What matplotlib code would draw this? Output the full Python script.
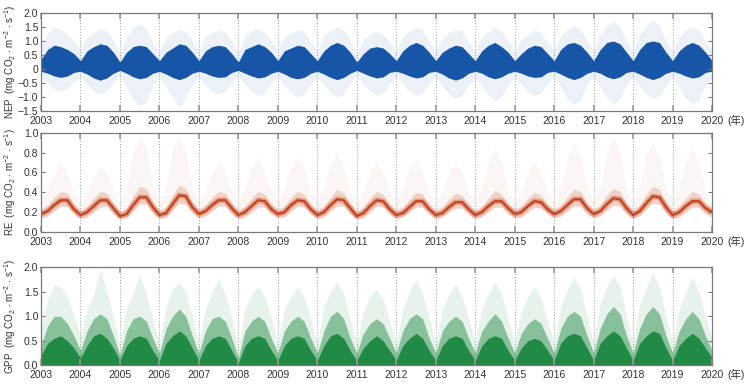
import numpy as np
import matplotlib.pyplot as plt

plt.rcParams['font.family'] = ['Liberation Sans', 'Noto Sans CJK JP']
plt.rcParams['mathtext.default'] = 'regular'

# sample points: Jan, Mar, May, Jul, Sep, Nov of every year, plus Jan 2020
years = list(range(2003, 2020))
year_ticks = list(range(2003, 2021))

# NEP dense band (upper / lower edge) and sparse envelope
nep_core_hi = [
    [0.35, 0.70, 0.85, 0.80, 0.70, 0.55],
    [0.30, 0.65, 0.80, 0.90, 0.85, 0.60],
    [0.25, 0.60, 0.80, 0.85, 0.80, 0.55],
    [0.30, 0.60, 0.75, 0.90, 0.85, 0.60],
    [0.30, 0.65, 0.80, 0.85, 0.80, 0.55],
    [0.25, 0.70, 0.80, 0.90, 0.80, 0.60],
    [0.30, 0.65, 0.75, 0.85, 0.80, 0.55],
    [0.30, 0.65, 0.85, 0.95, 0.85, 0.60],
    [0.25, 0.55, 0.75, 0.80, 0.75, 0.55],
    [0.30, 0.65, 0.85, 0.95, 0.85, 0.60],
    [0.30, 0.60, 0.75, 0.85, 0.80, 0.55],
    [0.30, 0.65, 0.85, 0.95, 0.80, 0.60],
    [0.30, 0.55, 0.75, 0.85, 0.80, 0.55],
    [0.30, 0.70, 0.90, 0.95, 0.85, 0.60],
    [0.30, 0.70, 0.95, 1.00, 0.90, 0.60],
    [0.30, 0.70, 0.95, 1.00, 0.95, 0.60],
    [0.30, 0.65, 0.85, 0.95, 0.85, 0.60],
    [0.30],
]
nep_core_lo = [
    [-0.08, -0.15, -0.25, -0.30, -0.25, -0.12],
    [-0.08, -0.18, -0.32, -0.40, -0.32, -0.15],
    [-0.05, -0.15, -0.28, -0.35, -0.30, -0.15],
    [-0.08, -0.18, -0.30, -0.38, -0.30, -0.15],
    [-0.08, -0.15, -0.25, -0.30, -0.28, -0.12],
    [-0.05, -0.15, -0.25, -0.32, -0.28, -0.15],
    [-0.08, -0.18, -0.30, -0.35, -0.30, -0.15],
    [-0.08, -0.18, -0.30, -0.38, -0.30, -0.15],
    [-0.05, -0.15, -0.25, -0.32, -0.28, -0.12],
    [-0.08, -0.15, -0.25, -0.32, -0.28, -0.12],
    [-0.08, -0.18, -0.32, -0.40, -0.32, -0.15],
    [-0.08, -0.15, -0.28, -0.35, -0.28, -0.15],
    [-0.08, -0.15, -0.25, -0.30, -0.28, -0.12],
    [-0.08, -0.18, -0.30, -0.38, -0.30, -0.15],
    [-0.08, -0.15, -0.28, -0.35, -0.28, -0.12],
    [-0.08, -0.18, -0.30, -0.38, -0.30, -0.15],
    [-0.08, -0.15, -0.25, -0.32, -0.28, -0.12],
    [-0.08],
]
nep_out_hi = [
    [0.80, 1.30, 1.50, 1.40, 1.25, 1.00],
    [0.70, 1.15, 1.30, 1.45, 1.35, 1.00],
    [0.55, 1.15, 1.50, 1.60, 1.45, 0.95],
    [0.65, 1.10, 1.30, 1.40, 1.35, 1.00],
    [0.65, 1.15, 1.30, 1.40, 1.30, 1.00],
    [0.60, 1.20, 1.35, 1.45, 1.30, 1.00],
    [0.70, 1.15, 1.30, 1.40, 1.35, 0.95],
    [0.65, 1.20, 1.40, 1.50, 1.40, 1.00],
    [0.55, 1.05, 1.25, 1.35, 1.25, 0.95],
    [0.65, 1.15, 1.35, 1.50, 1.40, 1.00],
    [0.65, 1.10, 1.30, 1.40, 1.35, 0.95],
    [0.65, 1.15, 1.35, 1.50, 1.35, 1.00],
    [0.65, 1.05, 1.25, 1.40, 1.30, 0.95],
    [0.65, 1.20, 1.40, 1.55, 1.40, 1.00],
    [0.65, 1.25, 1.55, 1.70, 1.50, 1.00],
    [0.65, 1.25, 1.55, 1.75, 1.55, 1.00],
    [0.65, 1.15, 1.40, 1.50, 1.40, 1.00],
    [0.70],
]
nep_out_lo = [
    [-0.30, -0.50, -0.70, -0.80, -0.70, -0.45],
    [-0.30, -0.55, -0.80, -0.90, -0.80, -0.50],
    [-0.25, -0.65, -1.10, -1.30, -1.20, -0.55],
    [-0.30, -0.65, -1.00, -1.35, -1.00, -0.55],
    [-0.30, -0.55, -0.80, -0.90, -0.80, -0.50],
    [-0.25, -0.55, -0.80, -0.95, -0.85, -0.50],
    [-0.30, -0.60, -0.85, -1.00, -0.90, -0.55],
    [-0.30, -0.55, -0.85, -1.00, -0.90, -0.50],
    [-0.25, -0.55, -0.80, -0.95, -0.85, -0.50],
    [-0.30, -0.55, -0.80, -0.95, -0.85, -0.50],
    [-0.30, -0.60, -0.90, -1.05, -0.95, -0.55],
    [-0.30, -0.60, -0.95, -1.15, -1.00, -0.55],
    [-0.30, -0.55, -0.80, -0.95, -0.85, -0.50],
    [-0.30, -0.65, -1.05, -1.25, -1.10, -0.55],
    [-0.30, -0.65, -1.00, -1.25, -1.05, -0.55],
    [-0.30, -0.60, -0.90, -1.05, -0.95, -0.55],
    [-0.30, -0.65, -1.05, -1.25, -1.10, -0.55],
    [-0.30],
]

# RE centre line, scatter band edges and sparse upper outliers
re_mid = [
    [0.18, 0.21, 0.27, 0.32, 0.32, 0.23],
    [0.17, 0.20, 0.26, 0.32, 0.32, 0.24],
    [0.16, 0.18, 0.27, 0.35, 0.35, 0.25],
    [0.17, 0.19, 0.28, 0.37, 0.36, 0.25],
    [0.18, 0.21, 0.27, 0.32, 0.32, 0.24],
    [0.17, 0.20, 0.26, 0.32, 0.31, 0.23],
    [0.18, 0.20, 0.27, 0.32, 0.31, 0.23],
    [0.17, 0.20, 0.27, 0.33, 0.32, 0.24],
    [0.16, 0.19, 0.26, 0.32, 0.31, 0.23],
    [0.17, 0.19, 0.25, 0.31, 0.31, 0.23],
    [0.17, 0.19, 0.25, 0.30, 0.30, 0.23],
    [0.17, 0.20, 0.26, 0.31, 0.31, 0.24],
    [0.18, 0.20, 0.26, 0.31, 0.30, 0.23],
    [0.18, 0.21, 0.27, 0.33, 0.33, 0.24],
    [0.18, 0.21, 0.28, 0.34, 0.33, 0.24],
    [0.17, 0.21, 0.29, 0.36, 0.35, 0.25],
    [0.17, 0.20, 0.26, 0.31, 0.31, 0.24],
    [0.20],
]
re_lo = [
    [0.14, 0.16, 0.21, 0.26, 0.26, 0.18],
    [0.13, 0.15, 0.20, 0.25, 0.26, 0.18],
    [0.13, 0.14, 0.21, 0.28, 0.28, 0.19],
    [0.13, 0.15, 0.22, 0.29, 0.28, 0.19],
    [0.14, 0.16, 0.21, 0.26, 0.26, 0.18],
    [0.13, 0.15, 0.20, 0.25, 0.25, 0.18],
    [0.14, 0.15, 0.21, 0.26, 0.25, 0.18],
    [0.13, 0.15, 0.21, 0.26, 0.26, 0.18],
    [0.13, 0.14, 0.20, 0.26, 0.25, 0.18],
    [0.13, 0.15, 0.20, 0.25, 0.25, 0.18],
    [0.13, 0.15, 0.20, 0.24, 0.24, 0.18],
    [0.13, 0.15, 0.20, 0.25, 0.25, 0.18],
    [0.14, 0.15, 0.20, 0.25, 0.24, 0.18],
    [0.14, 0.16, 0.21, 0.26, 0.26, 0.18],
    [0.14, 0.16, 0.22, 0.27, 0.26, 0.18],
    [0.13, 0.16, 0.23, 0.29, 0.28, 0.19],
    [0.13, 0.15, 0.20, 0.25, 0.25, 0.18],
    [0.15],
]
re_hi = [
    [0.23, 0.27, 0.35, 0.41, 0.39, 0.28],
    [0.22, 0.26, 0.34, 0.41, 0.39, 0.29],
    [0.21, 0.24, 0.36, 0.46, 0.44, 0.30],
    [0.22, 0.25, 0.37, 0.47, 0.44, 0.30],
    [0.23, 0.27, 0.35, 0.41, 0.39, 0.29],
    [0.22, 0.26, 0.34, 0.41, 0.38, 0.28],
    [0.23, 0.26, 0.35, 0.41, 0.38, 0.28],
    [0.22, 0.26, 0.35, 0.43, 0.39, 0.29],
    [0.21, 0.25, 0.34, 0.41, 0.38, 0.28],
    [0.22, 0.25, 0.33, 0.40, 0.38, 0.28],
    [0.22, 0.25, 0.33, 0.39, 0.37, 0.28],
    [0.22, 0.26, 0.34, 0.42, 0.38, 0.29],
    [0.23, 0.26, 0.34, 0.40, 0.37, 0.28],
    [0.23, 0.27, 0.35, 0.43, 0.41, 0.29],
    [0.23, 0.27, 0.37, 0.44, 0.41, 0.29],
    [0.22, 0.27, 0.38, 0.46, 0.43, 0.30],
    [0.22, 0.26, 0.34, 0.41, 0.38, 0.29],
    [0.25],
]
re_out = [
    [0.30, 0.45, 0.60, 0.70, 0.60, 0.40],
    [0.30, 0.40, 0.55, 0.65, 0.60, 0.40],
    [0.30, 0.45, 0.80, 0.95, 0.85, 0.45],
    [0.30, 0.45, 0.85, 0.95, 0.80, 0.45],
    [0.30, 0.40, 0.60, 0.70, 0.60, 0.40],
    [0.30, 0.45, 0.65, 0.75, 0.60, 0.40],
    [0.30, 0.45, 0.65, 0.75, 0.65, 0.40],
    [0.30, 0.45, 0.70, 0.80, 0.65, 0.40],
    [0.30, 0.40, 0.60, 0.70, 0.60, 0.40],
    [0.30, 0.45, 0.65, 0.75, 0.60, 0.40],
    [0.30, 0.40, 0.60, 0.70, 0.60, 0.40],
    [0.30, 0.45, 0.70, 0.85, 0.70, 0.40],
    [0.30, 0.40, 0.60, 0.70, 0.60, 0.40],
    [0.30, 0.45, 0.75, 0.90, 0.75, 0.45],
    [0.30, 0.45, 0.80, 0.95, 0.80, 0.45],
    [0.30, 0.45, 0.80, 0.90, 0.75, 0.45],
    [0.30, 0.45, 0.70, 0.85, 0.70, 0.40],
    [0.30],
]

# GPP dense core, intermediate density and sparse envelope (all from 0)
gpp_core = [
    [0.20, 0.45, 0.55, 0.60, 0.50, 0.35],
    [0.15, 0.40, 0.60, 0.65, 0.55, 0.35],
    [0.10, 0.40, 0.55, 0.60, 0.55, 0.30],
    [0.10, 0.45, 0.60, 0.70, 0.60, 0.35],
    [0.10, 0.40, 0.55, 0.60, 0.55, 0.30],
    [0.05, 0.40, 0.55, 0.60, 0.55, 0.30],
    [0.10, 0.40, 0.55, 0.60, 0.55, 0.30],
    [0.10, 0.40, 0.60, 0.65, 0.55, 0.30],
    [0.10, 0.35, 0.50, 0.60, 0.50, 0.30],
    [0.10, 0.40, 0.55, 0.65, 0.55, 0.30],
    [0.10, 0.40, 0.55, 0.60, 0.55, 0.30],
    [0.10, 0.40, 0.55, 0.60, 0.55, 0.30],
    [0.10, 0.35, 0.50, 0.55, 0.50, 0.30],
    [0.10, 0.45, 0.60, 0.65, 0.60, 0.35],
    [0.10, 0.45, 0.60, 0.70, 0.60, 0.35],
    [0.10, 0.45, 0.60, 0.70, 0.65, 0.35],
    [0.10, 0.40, 0.55, 0.65, 0.55, 0.35],
    [0.15],
]
gpp_mid = [
    [0.40, 0.80, 1.00, 1.00, 0.85, 0.60],
    [0.30, 0.70, 0.95, 1.05, 0.95, 0.60],
    [0.20, 0.70, 0.95, 1.00, 0.90, 0.55],
    [0.25, 0.75, 1.00, 1.15, 1.00, 0.60],
    [0.25, 0.70, 0.95, 1.00, 0.90, 0.55],
    [0.15, 0.70, 0.90, 1.00, 0.90, 0.55],
    [0.25, 0.70, 0.90, 1.00, 0.90, 0.55],
    [0.25, 0.70, 1.00, 1.10, 0.95, 0.55],
    [0.25, 0.65, 0.85, 0.95, 0.85, 0.55],
    [0.25, 0.70, 0.95, 1.05, 0.95, 0.55],
    [0.25, 0.70, 0.90, 1.00, 0.90, 0.55],
    [0.25, 0.70, 0.90, 1.05, 0.90, 0.55],
    [0.25, 0.65, 0.85, 0.95, 0.85, 0.55],
    [0.25, 0.75, 1.00, 1.10, 1.00, 0.60],
    [0.25, 0.75, 1.05, 1.20, 1.05, 0.60],
    [0.25, 0.75, 1.05, 1.20, 1.05, 0.60],
    [0.25, 0.70, 0.95, 1.10, 0.95, 0.60],
    [0.30],
]
gpp_out = [
    [0.80, 1.35, 1.65, 1.60, 1.40, 1.00],
    [0.60, 1.15, 1.45, 1.95, 1.50, 1.00],
    [0.40, 1.15, 1.50, 1.85, 1.45, 0.95],
    [0.45, 1.20, 1.55, 1.70, 1.50, 1.00],
    [0.45, 1.15, 1.50, 1.75, 1.45, 0.95],
    [0.35, 1.15, 1.45, 1.60, 1.40, 0.95],
    [0.45, 1.15, 1.40, 1.60, 1.40, 0.95],
    [0.45, 1.20, 1.50, 1.70, 1.45, 0.95],
    [0.45, 1.10, 1.40, 1.55, 1.35, 0.90],
    [0.45, 1.15, 1.50, 1.75, 1.45, 0.95],
    [0.45, 1.15, 1.45, 1.65, 1.40, 0.95],
    [0.45, 1.15, 1.45, 1.70, 1.45, 0.95],
    [0.45, 1.10, 1.40, 1.60, 1.35, 0.90],
    [0.45, 1.20, 1.55, 1.80, 1.55, 1.00],
    [0.45, 1.25, 1.60, 1.85, 1.60, 1.00],
    [0.45, 1.25, 1.60, 1.90, 1.60, 1.00],
    [0.45, 1.15, 1.50, 1.80, 1.50, 1.00],
    [0.55],
]

nep_ticks = [-1.5, -1.0, -0.5, 0, 0.5, 1.0, 1.5, 2.0]
nep_ticklabels = ['\u22121.5', '\u22121.0', '\u22120.5', '0', '0.5', '1.0', '1.5', '2.0']
re_ticks = [0.0, 0.2, 0.4, 0.6, 0.8, 1.0]
gpp_ticks = [0.0, 0.5, 1.0, 1.5, 2.0]

unit = r'  (mg CO$_2$ $\cdot$ m$^{-2}$ $\cdot$ s$^{-1}$)'

c_nep = '#0b4ea2'
c_re = '#c4441c'
c_gpp = '#16843c'
grey = '#7a7a7a'


def flat(rows):
    return np.array([v for r in rows for v in r])


t = np.array([y + m / 6 for y in years for m in range(6)] + [2020.0])

fig = plt.figure(figsize=(7.54, 3.84), dpi=100)
ax1 = fig.add_axes([0.0544, 0.711, 0.890, 0.255])
ax2 = fig.add_axes([0.0544, 0.396, 0.890, 0.258])
ax3 = fig.add_axes([0.0544, 0.049, 0.890, 0.255])

# NEP
ax1.fill_between(t, flat(nep_out_lo), flat(nep_out_hi), color=c_nep, alpha=0.08, lw=0)
ax1.fill_between(t, flat(nep_core_lo), flat(nep_core_hi), color=c_nep, alpha=0.95, lw=0)

# RE
ax2.fill_between(t, flat(re_lo), flat(re_out), color=c_re, alpha=0.05, lw=0)
ax2.fill_between(t, flat(re_lo), flat(re_hi), color=c_re, alpha=0.2, lw=0)
ax2.plot(t, flat(re_mid), color=c_re, lw=4, alpha=0.35, solid_capstyle='butt')
ax2.plot(t, flat(re_mid), color=c_re, lw=1.6)

# GPP
zero = np.zeros_like(t)
ax3.fill_between(t, zero, flat(gpp_out), color=c_gpp, alpha=0.1, lw=0)
ax3.fill_between(t, zero, flat(gpp_mid), color=c_gpp, alpha=0.45, lw=0)
ax3.fill_between(t, zero, flat(gpp_core), color=c_gpp, alpha=0.9, lw=0)

panels = [
    (ax1, 'NEP', (-1.5, 2.0), nep_ticks, nep_ticklabels),
    (ax2, 'RE', (0.0, 1.0), re_ticks, ['%.1f' % v for v in re_ticks]),
    (ax3, 'GPP', (0.0, 2.0), gpp_ticks, ['%.1f' % v for v in gpp_ticks]),
]
for ax, name, ylim, yt, ytl in panels:
    ax.set_xlim(2003, 2020)
    ax.set_ylim(*ylim)
    ax.set_xticks(year_ticks)
    ax.set_xticklabels([str(y) for y in year_ticks], fontsize=7.5, color='#333333')
    ax.set_yticks(yt)
    ax.set_yticklabels(ytl, fontsize=7.5, color='#333333')
    ax.tick_params(axis='x', direction='in', length=4, width=1.2, color='#999999',
                   top=True, pad=3.5)
    ax.tick_params(axis='y', direction='in', length=3, width=0.8, color=grey,
                   right=True, pad=2)
    for yr in year_ticks[1:-1]:
        ax.axvline(yr, color='#9a9a9a', lw=0.7, ls=(0, (1, 2)), zorder=0.5)
    for s in ax.spines.values():
        s.set_color(grey)
        s.set_linewidth(0.9)
    ax.set_ylabel(name + unit, fontsize=7, color='#333333')
    ax.yaxis.set_label_coords(-0.034, 0.5)
    # year unit after the last tick label
    ax.annotate('(年)', xy=(1, 0), xycoords='axes fraction', xytext=(11, -7),
                textcoords='offset points', fontsize=7.5, color='#333333',
                ha='left', va='center')

fig.savefig('out.png', dpi=100)
